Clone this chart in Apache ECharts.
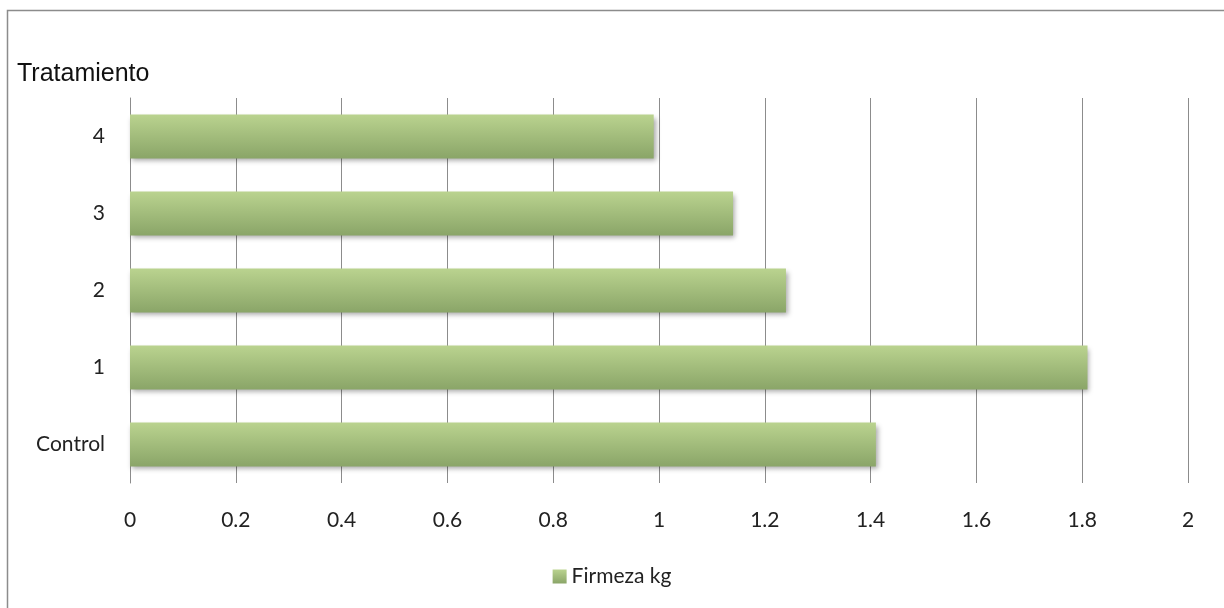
<!DOCTYPE html>
<html><head><meta charset="utf-8">
<script src="https://cdn.jsdelivr.net/npm/echarts@6/dist/echarts.min.js"></script>
<style>html,body{margin:0;padding:0;background:#fff}#c{width:1224px;height:608px}</style>
</head><body><div id="c"></div>
<script>
const categories = ['Control', '1', '2', '3', '4'];
const firmeza = [1.41, 1.81, 1.24, 1.14, 0.99];
const seriesName = 'Firmeza kg';
const axisTitle = 'Tratamiento';

const chart = echarts.init(document.getElementById('c'));
const green = new echarts.graphic.LinearGradient(0, 0, 0, 1, [
  {offset: 0, color: '#bad38f'},
  {offset: 1, color: '#8aa568'}
]);
chart.setOption({
  animation: false,
  backgroundColor: '#fff',
  graphic: [{
    type: 'rect', shape: {x: 7.5, y: 10.5, width: 1230, height: 610},
    style: {fill: 'none', stroke: '#8c8c8c', lineWidth: 1.5}, silent: true
  }],
  grid: {left: 130, right: 36, top: 98, bottom: 125, containLabel: false, outerBoundsMode: 'none'},
  legend: {
    bottom: 16, left: 'center', itemWidth: 14, itemHeight: 14, itemGap: 6,
    icon: 'rect',
    textStyle: {fontFamily: 'Lato', fontSize: 21, color: '#222'},
    data: [{name: seriesName, itemStyle: {color: green}}]
  },
  xAxis: {
    type: 'value', min: 0, max: 2, interval: 0.2,
    axisLine: {show: false}, axisTick: {show: false},
    splitLine: {show: true, lineStyle: {color: '#8c8c8c', width: 1}},
    axisLabel: {fontFamily: 'Lato', fontSize: 21, color: '#222', margin: 27,
      formatter: v => String(Math.round(v * 10) / 10)}
  },
  yAxis: {
    type: 'category', data: categories,
    name: axisTitle, nameLocation: 'end', nameGap: 11,
    nameTextStyle: {fontFamily: 'Liberation Sans', fontSize: 25, color: '#111', align: 'left', padding: [0, 0, 0, -113]},
    axisLine: {show: true, lineStyle: {color: '#8c8c8c'}},
    axisTick: {show: false},
    axisLabel: {fontFamily: 'Lato', fontSize: 21, color: '#222', margin: 25}
  },
  series: [{
    name: seriesName, type: 'bar', data: firmeza, barWidth: '57%',
    itemStyle: {color: green, shadowColor: 'rgba(0,0,0,0.35)', shadowBlur: 5, shadowOffsetX: 2, shadowOffsetY: 3}
  }]
});
</script></body></html>
